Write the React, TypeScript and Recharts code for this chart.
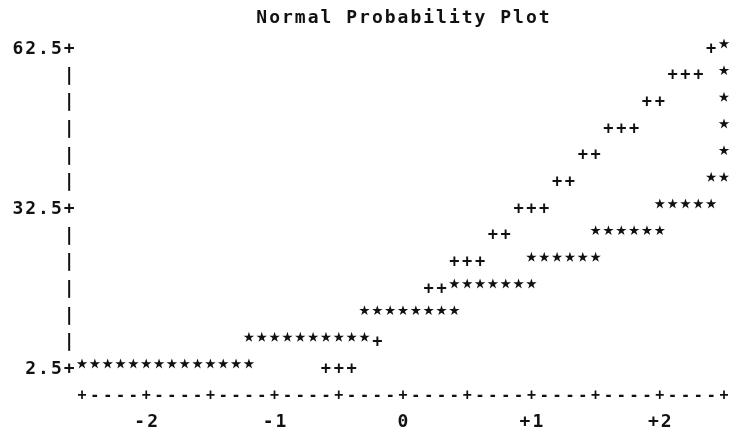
import React from 'react';
import { ScatterChart, Scatter, XAxis, YAxis, Symbols } from 'recharts';

const chartTitle = 'Normal Probability Plot';
const rowValues = [62.5, 57.5, 52.5, 47.5, 42.5, 37.5, 32.5, 27.5, 22.5, 17.5, 12.5, 7.5, 2.5];
const yLabelValues = [62.5, 32.5, 2.5];
const xTicks = [-2.5, -2, -1.5, -1, -0.5, 0, 0.5, 1, 1.5, 2, 2.5];
const xLabelValues = [-2, -1, 0, 1, 2];
const xLabelTexts = ['-2', '-1', '0', '+1', '+2'];

// observed values ("*"), one list of normal quantiles per row value
const starQuantiles: number[][] = [
  [2.5],
  [2.5],
  [2.5],
  [2.5],
  [2.5],
  [2.4, 2.5],
  [2.0, 2.1, 2.2, 2.3, 2.4],
  [1.5, 1.6, 1.7, 1.8, 1.9, 2.0],
  [1.0, 1.1, 1.2, 1.3, 1.4, 1.5],
  [0.4, 0.5, 0.6, 0.7, 0.8, 0.9, 1.0],
  [-0.3, -0.2, -0.1, 0, 0.1, 0.2, 0.3, 0.4],
  [-1.2, -1.1, -1.0, -0.9, -0.8, -0.7, -0.6, -0.5, -0.4, -0.3],
  [-2.5, -2.4, -2.3, -2.2, -2.1, -2.0, -1.9, -1.8, -1.7, -1.6, -1.5, -1.4, -1.3, -1.2],
];

// reference normal line ("+")
const refQuantiles: number[][] = [
  [2.4],
  [2.1, 2.2, 2.3],
  [1.9, 2.0],
  [1.6, 1.7, 1.8],
  [1.4, 1.5],
  [1.2, 1.3],
  [0.9, 1.0, 1.1],
  [0.7, 0.8],
  [0.4, 0.5, 0.6],
  [0.2, 0.3],
  [],
  [-0.2],
  [-0.6, -0.5, -0.4],
];

const starData = rowValues.flatMap((v, i) => starQuantiles[i].map((q) => ({ x: q, y: v })));
const refData = rowValues.flatMap((v, i) => refQuantiles[i].map((q) => ({ x: q, y: v })));

const W = 729;
const H = 430;
const M_TOP = 48;
const M_RIGHT = 5;
const Y_W = 82;
const X_H = 62;
const COL = (W - Y_W - M_RIGHT) / 50;
const ROW = (H - M_TOP - X_H) / 12;
const FONT = '"DejaVu Sans Mono", "Liberation Mono", monospace';
const INK = '#111';

type MonoProps = {
  cx: number;
  cy: number;
  text: string;
  size?: number;
  weight?: string | number;
  anchor?: 'middle' | 'first' | 'last';
};

function MonoText({ cx, cy, text, size = 18, weight = 'bold', anchor = 'middle' }: MonoProps) {
  const adv = 0.6021 * size;
  const n = text.length;
  const ls = n > 1 ? COL - adv : 0;
  let start = cx - ((n - 1) * COL + adv) / 2;
  if (anchor === 'first') start = cx - adv / 2;
  if (anchor === 'last') start = cx - (n - 1) * COL - adv / 2;
  return (
    <text
      x={start}
      y={cy + 0.34 * size}
      fontFamily={FONT}
      fontSize={size}
      fontWeight={weight}
      letterSpacing={ls}
      textAnchor="start"
      fill={INK}
      style={{ whiteSpace: 'pre' }}
    >
      {text}
    </text>
  );
}

function XTick(props: any) {
  const { x, y, payload } = props;
  const v = payload.value as number;
  const lineY = y + ROW;
  const labelY = y + 2 * ROW;
  const isLast = v >= 2.5;
  const li = xLabelValues.indexOf(v);
  return (
    <g>
      <MonoText cx={x} cy={lineY} text={isLast ? '+' : '+----'} anchor="first" size={15} />
      {li >= 0 ? <MonoText cx={x} cy={labelY} text={xLabelTexts[li]} size={18} /> : null}
    </g>
  );
}

function YTick(props: any) {
  const { x, y, payload } = props;
  const v = payload.value as number;
  const axisX = x - COL;
  if (yLabelValues.includes(v)) {
    const label = String(v) + '+';
    return <MonoText cx={axisX} cy={y} text={label} anchor="last" size={18} />;
  }
  return <MonoText cx={axisX} cy={y} text="|" anchor="first" size={18} weight="bold" />;
}

function StarShape(props: any) {
  const { cx, cy } = props;
  return <Symbols type="star" size={34} cx={cx} cy={cy - 4} fill={INK} stroke="none" />;
}

function PlusShape(props: any) {
  const { cx, cy } = props;
  return <MonoText cx={cx} cy={cy} text="+" anchor="first" size={17} />;
}

export default function App() {
  return (
    <div
      style={{
        position: 'absolute',
        left: 0,
        top: 0,
        width: W,
        height: H,
        background: '#fff',
        filter: 'grayscale(1)',
      }}
    >
      <ScatterChart width={W} height={H} margin={{ top: M_TOP, right: M_RIGHT, bottom: 0, left: 0 }}>
        <XAxis
          type="number"
          dataKey="x"
          domain={[-2.5, 2.5]}
          ticks={xTicks}
          interval={0}
          height={X_H}
          axisLine={false}
          tickLine={false}
          tickSize={0}
          tickMargin={0}
          tick={<XTick />}
        />
        <YAxis
          type="number"
          dataKey="y"
          domain={[2.5, 62.5]}
          ticks={rowValues}
          interval={0}
          width={Y_W}
          axisLine={false}
          tickLine={false}
          tickSize={0}
          tickMargin={0}
          tick={<YTick />}
        />
        <Scatter name="reference" data={refData} shape={<PlusShape />} isAnimationActive={false} />
        <Scatter name="observed" data={starData} shape={<StarShape />} isAnimationActive={false} />
        <MonoText cx={403} cy={17} text={chartTitle} size={18} />
      </ScatterChart>
    </div>
  );
}
